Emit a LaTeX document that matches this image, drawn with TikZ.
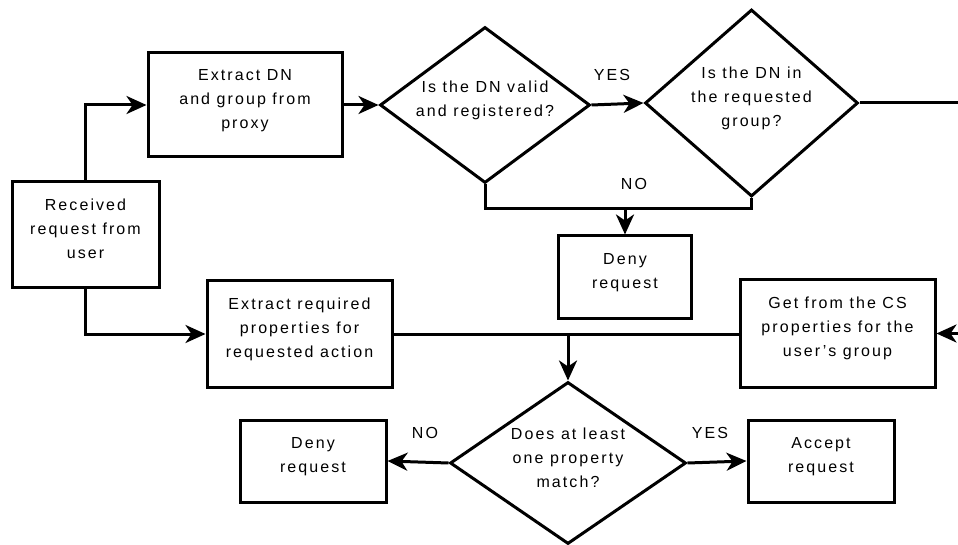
\documentclass[tikz,border=0pt]{standalone}
\usepackage{fontspec}
\setmainfont{Liberation Sans}[LetterSpace=13]
\usetikzlibrary{shapes.geometric,arrows.meta}
\newcommand\lowstrut{\rule[-13pt]{0pt}{13pt}}
\begin{document}
\begin{tikzpicture}[x=1pt,y=-1pt,line width=3pt,
  box/.style={draw,rectangle,inner sep=0pt,align=center,font=\fontsize{16}{24}\selectfont},
  dia/.style={draw,diamond,inner sep=0pt,aspect=1},
  txt/.style={align=center,inner sep=0pt,font=\fontsize{16}{24}\selectfont},
  arr/.style={-{Stealth[length=20pt,width=18pt,inset=6pt]}}]
\clip (0,0) rectangle (958,545);
% boxes
\node[box,minimum width=147pt,minimum height=106pt] (rec) at (85.5,235) {Received\\request from\\user\lowstrut};
\node[box,minimum width=194pt,minimum height=104pt] (ext1) at (245,105) {Extract DN\\and group from\\proxy\lowstrut};
\node[box,minimum width=185pt,minimum height=106pt] (ext2) at (299.5,334) {Extract required\\properties for\\requested action\lowstrut};
\node[box,minimum width=133pt,minimum height=82pt] (deny1) at (625,277) {Deny\\request\lowstrut};
\node[box,minimum width=195pt,minimum height=107pt] (get) at (837.5,333.5) {Get from the CS\\properties for the\\user’s group\lowstrut};
\node[box,minimum width=146pt,minimum height=82pt] (deny2) at (313,461) {Deny\\request\lowstrut};
\node[box,minimum width=146pt,minimum height=82pt] (acc) at (821,461) {Accept\\request\lowstrut};
% diamonds
\node[dia,minimum width=210pt,minimum height=156pt] (d1) at (485,105) {};
\node[dia,minimum width=213pt,minimum height=187pt] (d2) at (751.5,103) {};
\node[dia,minimum width=236pt,minimum height=162pt] (d3) at (568,463) {};
\node[txt] (t1) at (485,100) {Is the DN valid\\and registered?};
\node[txt] (t2) at (751.5,98) {Is the DN in\\the requested\\group?};
\node[txt] (t3) at (568,458) {Does at least\\one property\\match?};
% labels
\node[txt] (yes1) at (612,75) {YES};
\node[txt] (no1) at (634,184) {NO};
\node[txt] (no2) at (425,433) {NO};
\node[txt] (yes2) at (710,433) {YES};
% connectors
\coordinate (nj) at (625,209);
\coordinate (j2) at (568,334);
\draw[arr] (rec.north) |- (ext1.west);
\draw[arr] (rec.south) |- (ext2.west);
\draw[arr] (ext1.east) -- (d1.west);
\draw[arr] (d1.east) -- (d2.west);
\draw (d1.south) |- (nj) -| (d2.south);
\draw[arr] (nj) -- (deny1.north);
\draw[arr] (d2.east) -- ++(150,0) |- (get.east);
\draw (ext2.east) -- (ext2.east -| get.west);
\draw[arr] (j2) -- (d3.north);
\draw[arr] (d3.west) -- (deny2.east);
\draw[arr] (d3.east) -- (acc.west);
\end{tikzpicture}
\end{document}
